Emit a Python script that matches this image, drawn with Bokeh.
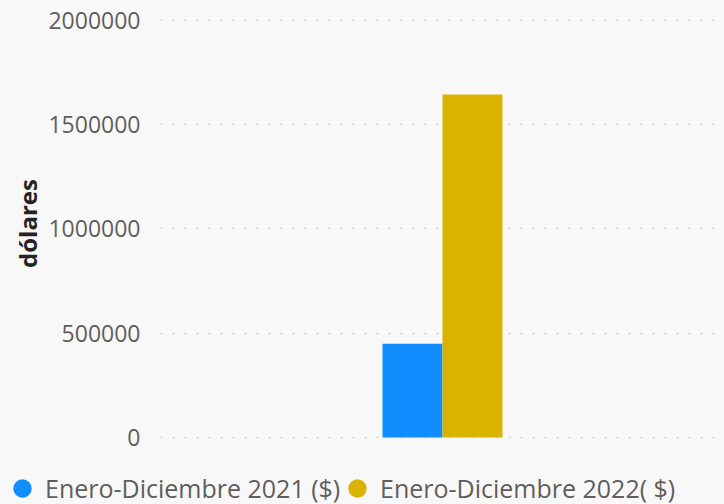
from bokeh.plotting import figure
from bokeh.models import (ColumnDataSource, FactorRange, Range1d, FixedTicker,
                          BasicTickFormatter, Legend, LegendItem)
from bokeh.transform import dodge
from bokeh.embed import file_html
from bokeh.resources import INLINE

# ---- data ----
categories = ["Total"]
series_names = ["Enero-Diciembre 2021 ($)", "Enero-Diciembre 2022( $)"]
values_2021 = [450000]
values_2022 = [1645000]
y_ticks = [0, 500000, 1000000, 1500000, 2000000]
y_title = "dólares"

colors = ["#118DFF", "#D9B300"]
bg = "#F8F8F8"
font = "Open Sans"

src = ColumnDataSource(dict(cat=categories, v2021=values_2021, v2022=values_2022))

p = figure(x_range=FactorRange(*categories), y_range=Range1d(-4800, 2057500),
           width=716, height=460, output_backend="svg", toolbar_location=None,
           min_border_left=152, min_border_right=0, min_border_top=0, min_border_bottom=30,
           background_fill_color=bg, border_fill_color=bg, outline_line_color=None)

bw = 0.1064
p.vbar(x=dodge("cat", -bw / 2, range=p.x_range), top="v2021", width=bw, source=src,
       fill_color=colors[0], line_color=None)
p.vbar(x=dodge("cat", bw / 2, range=p.x_range), top="v2022", width=bw, source=src,
       fill_color=colors[1], line_color=None)

p.xaxis.visible = False
p.xgrid.visible = False

p.yaxis.ticker = FixedTicker(ticks=y_ticks)
p.yaxis.formatter = BasicTickFormatter(use_scientific=False)
p.yaxis.axis_line_color = None
p.yaxis.major_tick_line_color = None
p.yaxis.minor_tick_line_color = None
p.yaxis.major_tick_out = 0
p.yaxis.minor_tick_out = 0
p.yaxis.major_label_standoff = 20
p.yaxis.major_label_text_font = font
p.yaxis.major_label_text_font_size = "23px"
p.yaxis.major_label_text_color = "#605E5C"
p.yaxis.axis_label = y_title
p.yaxis.axis_label_text_font = font
p.yaxis.axis_label_text_font_style = "bold"
p.yaxis.axis_label_text_font_size = "24px"
p.yaxis.axis_label_text_color = "#252423"
p.yaxis.axis_label_text_line_height = 1.0
p.yaxis.axis_label_standoff = 1

p.ygrid.grid_line_color = "#CCCCCC"
p.ygrid.grid_line_dash = "2 10"
p.ygrid.grid_line_width = 1.5

# ---- legend strip (separate root) ----
lg = figure(x_range=FactorRange(*categories), y_range=Range1d(0, 1),
            width=716, height=36, output_backend="svg", toolbar_location=None,
            x_axis_type=None, y_axis_type=None,
            min_border_left=0, min_border_right=0, min_border_top=0, min_border_bottom=0,
            background_fill_color=bg, border_fill_color=bg, outline_line_color=None)
lg.grid.visible = False
# size-0 proxies: only their legend circles are drawn
d1 = lg.scatter(x="cat", y="v2021", source=src, size=0, marker="circle",
                fill_color=colors[0], line_color=None)
d2 = lg.scatter(x="cat", y="v2022", source=src, size=0, marker="circle",
                fill_color=colors[1], line_color=None)


def make_legend(label, renderer, loc):
    return Legend(items=[LegendItem(label=label, renderers=[renderer])], location=loc,
                  orientation="horizontal", glyph_width=46, glyph_height=46,
                  label_standoff=0, padding=0, margin=0, spacing=0,
                  background_fill_alpha=0, border_line_color=None,
                  label_text_font=font, label_text_font_size="25px",
                  label_text_color="#605E5C")


lg.add_layout(make_legend(series_names[0], d1, (-9, -7)))
lg.add_layout(make_legend(series_names[1], d2, (326, -7)))

html = file_html([p, lg], INLINE)
html = html.replace(
    "</head>",
    "<style>html,body{background:%s;overflow:hidden;}body{margin:8px 8px 0 8px;}</style></head>" % bg,
    1)
open("out.html", "w").write(html)
